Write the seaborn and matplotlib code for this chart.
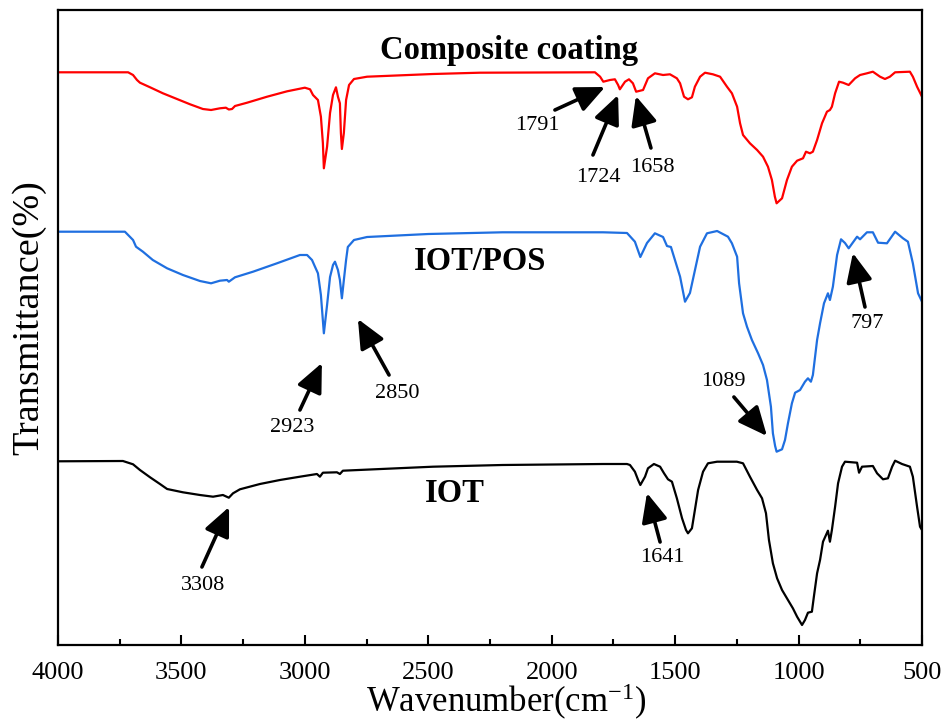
import numpy as np
import pandas as pd
import matplotlib
matplotlib.use("Agg")
import matplotlib.pyplot as plt
from matplotlib.ticker import MultipleLocator
import seaborn as sns

# FTIR spectra (wavenumber in cm^-1, transmittance in arbitrary stacked units)
composite_wn = [4000, 3737, 3716, 3696, 3680, 3668, 3627, 3575, 3518, 3465, 3413, 3380, 3344,
                3320, 3308, 3295, 3283, 3234, 3153, 3072, 3020, 3000, 2979, 2967, 2947, 2935,
                2927, 2923, 2910, 2898, 2886, 2874, 2866, 2858, 2854, 2850, 2842, 2833, 2821,
                2801, 2748, 2481, 2291, 1825, 1804, 1791, 1764, 1744, 1731, 1724, 1703, 1687,
                1671, 1658, 1630, 1610, 1582, 1549, 1521, 1493, 1480, 1464, 1448, 1432, 1420,
                1399, 1379, 1347, 1318, 1290, 1270, 1249, 1237, 1225, 1197, 1168, 1144, 1124,
                1108, 1096, 1089, 1067, 1047, 1027, 1006, 982, 970, 954, 942, 925, 905, 885,
                873, 865, 852, 836, 820, 797, 771, 751, 723, 699, 670, 650, 630, 609, 549, 537,
                520, 500]
composite_t = [572.7, 572.7, 572.7, 570, 565, 562.3, 557.7, 551.7, 546, 540.7, 536, 535, 536.7,
               537.3, 535.5, 536, 539, 542.3, 548.3, 553.7, 556.3, 557.3, 555.7, 550, 545, 528.3,
               502, 476.7, 498.3, 532, 550, 557.7, 548.3, 541.7, 512, 496, 512, 545, 560,
               566, 568.3, 571, 572.3, 572.7, 568.3, 563.3, 565, 565.7, 560, 555.7, 563.3, 565.7,
               561.7, 553.3, 555, 566.7, 571.7, 570, 570.7, 566.7, 561.7, 548.3, 545.7, 547.7, 558.3,
               568.3, 572.3, 570.7, 568.3, 558.3, 551.7, 538.3, 521.7, 510, 501.7, 495, 488.3, 478.3,
               465, 448.3, 441.7, 446.7, 465, 478.3, 484.3, 486.7, 493.3, 491.7, 493.3, 505, 521.7, 533.3,
               535, 538.3, 551.7, 563.3, 562.3, 560, 566.7, 570, 571.7, 573.3, 568.3, 566, 568.3, 572.7, 573.3, 568.3,
               558.3, 548.3]

iotpos_wn = [4000, 3729, 3696, 3684, 3656, 3616, 3558, 3494, 3425, 3380, 3344, 3315, 3308,
             3283, 3210, 3113, 3020, 2991, 2971, 2959, 2947, 2935, 2923, 2910, 2898, 2886,
             2878, 2866, 2858, 2850, 2842, 2833, 2826, 2801, 2748, 2500, 2200, 1792, 1695,
             1663, 1641, 1614, 1582, 1549, 1533, 1517, 1480, 1460, 1440, 1399, 1371, 1330,
             1286, 1270, 1249, 1241, 1225, 1209, 1189, 1164, 1144, 1128, 1112, 1104, 1095,
             1089, 1067, 1055, 1043, 1027, 1014, 994, 974, 962, 950, 942, 925, 913, 897, 881,
             873, 861, 844, 828, 812, 797, 763, 751, 723, 699, 678, 642, 609, 577, 557, 537,
             516, 500]
iotpos_t = [413.3, 413.3, 405, 398.3, 393.3, 385, 376.7, 370, 364, 361.7, 364.3, 365, 363.3,
            367.7, 373.3, 381.7, 390, 390, 385, 378.3, 371.7, 350, 311.7, 340, 368, 380,
            383.3, 375, 365, 346.7, 365, 385, 398, 405, 408, 411, 412.7, 412.7, 412,
            403.3, 388, 402, 411.7, 408, 399, 398, 368.3, 343.3, 352, 398.3, 411.7, 414,
            408.3, 401.7, 388.3, 361.7, 331.7, 318.3, 305, 291.7, 280, 265, 238.3, 211.7, 199,
            193.3, 195.7, 205, 221.7, 241.7, 252.3, 255, 263.3, 266.7, 263.3, 270, 305, 321.7, 341.7, 351.7,
            345, 358.3, 390, 405.7, 402, 396.7, 408.3, 405.7, 412.7, 412.7, 402.3, 401.7, 413.3, 406.7, 403.3, 381.7,
            351.7, 343.3]

iot_wn = [4000, 3737, 3696, 3668, 3627, 3587, 3558, 3494, 3425, 3372, 3332, 3308, 3291,
          3263, 3182, 3101, 3020, 2951, 2939, 2927, 2870, 2858, 2846, 2481, 2200, 1792,
          1695, 1683, 1663, 1650, 1641, 1622, 1610, 1586, 1561, 1545, 1529, 1513, 1493,
          1472, 1456, 1448, 1432, 1420, 1407, 1387, 1367, 1330, 1250, 1225, 1197, 1168,
          1148, 1132, 1120, 1104, 1087, 1067, 1043, 1023, 1006, 986, 974, 962, 946, 938,
          925, 913, 901, 881, 873, 865, 852, 840, 824, 812, 763, 755, 743, 699, 682, 658,
          638, 621, 609, 581, 549, 537, 520, 508, 500]
iot_t = [183.7, 184, 180.7, 175, 167.7, 161, 156, 152.7, 150, 148.3, 150, 147.3, 151.7,
         155.7, 161, 165, 168.3, 171, 168.3, 172.3, 172.7, 171, 174.3, 178.3, 180, 181,
         181, 180, 173.3, 165, 160, 168.3, 176.7, 181, 178.3, 171.7, 165.7, 163.3, 146.7,
         126.7, 115, 111.7, 116.7, 135, 155, 173.3, 181.7, 183.3, 183.3, 181.7, 168.3, 155,
         146.7, 131.7, 105, 81.7, 66.7, 55, 45, 36.7, 28.3, 20, 25, 32.3, 33.3, 48.3,
         71.7, 85, 103.3, 114.3, 103.3, 115, 138.3, 161.7, 178.3, 183.3, 182.3, 172.3, 178.3, 179, 171.7, 165.7,
         166.7, 178.3, 184.3, 181, 178.3, 168.3, 138.3, 118.3, 115]

sample_names = ["Composite coating", "IOT/POS", "IOT"]
line_colors = ["#ff0000", "#1f6fe0", "#000000"]

# peak labels: (text, text position, arrow tail, arrow head) in data coordinates
peak_labels = ["1791", "1724", "1658", "2923", "2850", "3308", "1089", "797", "1641"]
label_pos = [(2060, 520), (1812, 468), (1594, 478), (3052, 217), (2627, 251),
             (3413, 59), (1306, 263), (723, 322), (1553, 87)]
arrow_tail = [(1987, 535), (1833, 490), (1598, 497), (3020, 235), (2659, 270),
              (3417, 78), (1262, 248), (731, 338), (1561, 103)]
arrow_head = [(1784, 558), (1731, 550), (1659, 549), (2931, 282), (2785, 326),
              (3307, 138), (1128, 209), (780, 392), (1614, 152)]
name_pos = [(2173, 595), (2291, 383), (2392, 152)]

sns.set_style("white")
plt.rcParams["font.family"] = ["serif"]
plt.rcParams["font.serif"] = ["Liberation Serif", "DejaVu Serif"]
plt.rcParams["mathtext.fontset"] = "custom"
plt.rcParams["mathtext.rm"] = "Liberation Serif"
plt.rcParams["mathtext.default"] = "regular"
plt.rcParams["text.color"] = "black"
plt.rcParams["axes.labelcolor"] = "black"
plt.rcParams["xtick.color"] = "black"
plt.rcParams["ytick.color"] = "black"

fig = plt.figure(figsize=(9.51, 7.24), dpi=100)
ax = fig.add_axes([58 / 951, 79 / 724, 864 / 951, 635 / 724])

for wn, t, color in zip([composite_wn, iotpos_wn, iot_wn],
                        [composite_t, iotpos_t, iot_t], line_colors):
    df = pd.DataFrame({"wn": wn, "t": t})
    sns.lineplot(data=df, x="wn", y="t", color=color, linewidth=1.6,
                 sort=False, ax=ax)
for line in ax.lines:
    line.set_solid_joinstyle("round")

ax.set_xlim(4000, 500)
ax.set_ylim(0, 635)

for (x, y), name in zip(name_pos, sample_names):
    ax.text(x, y, name, ha="center", va="center", fontsize=23.5,
            fontweight="bold", color="black")

for lab, tp, tail, head in zip(peak_labels, label_pos, arrow_tail, arrow_head):
    ax.text(tp[0], tp[1], lab, ha="center", va="center", fontsize=16, color="black")
    ax.annotate("", xy=head, xytext=tail,
                arrowprops=dict(arrowstyle="-|>,head_length=0.8,head_width=0.36",
                                lw=2.6, color="black", mutation_scale=22,
                                shrinkA=0, shrinkB=0))

ax.xaxis.set_major_locator(MultipleLocator(500))
ax.xaxis.set_minor_locator(MultipleLocator(250))
ax.tick_params(axis="x", which="major", direction="in", length=7.5, width=1.5,
               labelsize=19, pad=12, bottom=True, top=False, colors="black")
ax.tick_params(axis="x", which="minor", direction="in", length=4, width=1.5,
               bottom=True, top=False, colors="black")
ax.set_yticks([])
for s in ax.spines.values():
    s.set_linewidth(1.6)
    s.set_color("black")

ax.set_xlabel("Wavenumber(cm$^{-1}$)", fontsize=25, labelpad=0, color="black")
ax.xaxis.set_label_coords(0.5185, -0.058)
ax.set_ylabel("Transmittance(%)", fontsize=27.5, labelpad=6, color="black")
ax.yaxis.set_label_coords(-0.014, 0.515)

fig.savefig("out.png", dpi=100)
